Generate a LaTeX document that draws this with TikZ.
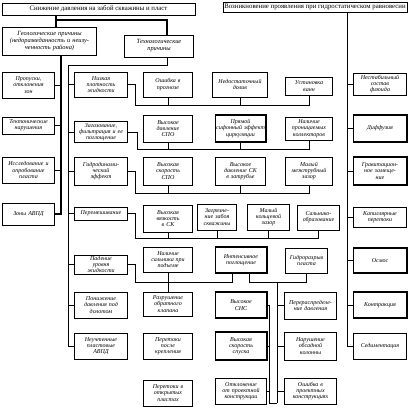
\documentclass[tikz,border=0pt]{standalone}
\usepackage{fontspec}
\setmainfont{Liberation Serif}
\usetikzlibrary{calc}

\begin{document}
\begin{tikzpicture}[x=1pt,y=-1pt,
  box/.style={draw,line width=0.8pt,align=center,inner sep=0.8pt,
    font=\fontsize{6}{6.2}\selectfont\itshape},
  heavy/.style={line width=1.4pt},
  title/.style={box,font=\fontsize{6.8}{7}\selectfont},
  link/.style={line width=0.7pt},
  trunk/.style={line width=1.6pt}]
\useasboundingbox (0,0) rectangle (409,408);

% headings
\node[title,minimum width=193,minimum height=12] (t1) at (98.5,9) {Снижение давления на забой скважины и пласт};
\node[title,minimum width=184,minimum height=10] (t2) at (315,7) {Возникновение проявления при гидростатическом равновесии};
\node[box,text width=93,minimum height=28,font=\fontsize{6.4}{7}\selectfont\itshape] (geo) at (49.5,41) {Геологические причины\\(недоразведанность и неизу-\\ченность района)};
\node[box,text width=68,minimum height=22,font=\fontsize{6.4}{7}\selectfont\itshape] (tech) at (159,46) {Технологические\\причины};

% geological causes
\node[box,text width=51,minimum height=26] (a1) at (28.5,85) {Пропуски,\\отклонения\\зон};
\node[box,text width=51,minimum height=17] (a2) at (28.5,125.5) {Тектонические\\нарушения};
\node[box,text width=51,minimum height=26] (a3) at (28.5,170) {Исследование и\\опробование\\пласта};
\node[box,text width=51,minimum height=22] (a4) at (28.5,214) {Зоны АВПД};

% technological causes
\node[box,text width=52,minimum height=25] (b1) at (101,84.5) {Низкая\\плотность\\жидкости};
\node[box,text width=52,minimum height=21] (b2) at (101,132) {Загазование,\\фильтрация и ее\\поглощение};
\node[box,text width=52,minimum height=28] (b3) at (101,171) {Гидродинами-\\ческий\\эффект};
\node[box,text width=52,minimum height=13] (b4) at (101,213.5) {Перемешивание};
\node[box,text width=52,minimum height=19] (b5) at (101,264.5) {Падение\\уровня\\жидкости};
\node[box,text width=52,minimum height=26] (b6) at (101,305) {Понижение\\давления под\\долотом};
\node[box,text width=52,minimum height=26] (b7) at (101,346) {Неучтенные\\пластовые\\АВПД};

\node[box,text width=48,minimum height=25] (c1) at (168,84.5) {Ошибка в\\прогнозе};
\node[box,text width=48,minimum height=27] (c2) at (168,128.5) {Высокое\\давление\\СПО};
\node[box,text width=48,minimum height=28] (c3) at (168,171) {Высокая\\скорость\\СПО};
\node[box,text width=48,minimum height=27] (c4) at (168,218.5) {Высокая\\вязкость\\в СК};
\node[box,text width=48,minimum height=25] (c5) at (168,259.5) {Наличие\\сальника при\\подъеме};
\node[box,text width=48,minimum height=24] (c6) at (168,304) {Разрушение\\обратного\\клапана};
\node[box,text width=48,minimum height=26] (c7) at (168,346) {Перетоки\\после\\крепления};
\node[box,text width=48,minimum height=26] (c8) at (168,393) {Перетоки в\\открытых\\пластах};

\node[box,text width=54,minimum height=25] (d1) at (240,84.5) {Недостаточный\\долив};
\node[box,heavy,text width=49,minimum height=27] (d2) at (240.5,128.5) {Прямой\\сифонный эффект\\циркуляции};
\node[box,text width=49,minimum height=28] (d3) at (240.5,171) {Высокое\\давление СК\\в затрубье};
\node[box,text width=38,minimum height=26] (d4a) at (217,217) {Загрязне-\\ние забоя\\скважины};
\node[box,text width=41,minimum height=26] (d4b) at (268.5,217) {Малый\\кольцевой\\зазор};
\node[box,heavy,text width=50,minimum height=26] (d5) at (241,260) {Интенсивное\\поглощение};
\node[box,heavy,text width=50,minimum height=26] (d6) at (241,305) {Высокое\\СНС};
\node[box,heavy,text width=50,minimum height=28] (d7) at (241,346) {Высокая\\скорость\\спуска};
\node[box,text width=50,minimum height=26] (d8) at (241,391) {Отклонение\\от проектной\\конструкции};

\node[box,text width=46,minimum height=18] (e1) at (309,86) {Установка\\ванн};
\node[box,text width=46,minimum height=23] (e2) at (309,128.5) {Наличие\\проницаемых\\коллекторов};
\node[box,text width=46,minimum height=28] (e3) at (309,171) {Малый\\межтрубный\\зазор};
\node[box,text width=41,minimum height=25] (e4) at (318.5,217.5) {Сальнико-\\образование};
\node[box,text width=41,minimum height=25] (e5) at (306.5,260.5) {Гидроразрыв\\пласта};
\node[box,text width=51,minimum height=27] (e6) at (310.5,305.5) {Перераспределе-\\ние давления};
\node[box,text width=51,minimum height=28] (e7) at (310.5,346) {Нарушение\\обсадной\\колонны};
\node[box,text width=51,minimum height=26] (e8) at (310.5,391) {Ошибка в\\проектных\\конструкциях};

% equilibrium causes
\node[box,text width=52,minimum height=22] (f1) at (380,84) {Нестабильный\\состав\\флюида};
\node[box,heavy,text width=52,minimum height=27] (f2) at (380,128.5) {Диффузия};
\node[box,heavy,text width=52,minimum height=28] (f3) at (380,171) {Гравитацион-\\ное замеще-\\ние};
\node[box,text width=52,minimum height=20] (f4) at (380,217) {Капиллярные\\перетоки};
\node[box,heavy,text width=52,minimum height=25] (f5) at (380,260.5) {Осмос};
\node[box,heavy,text width=52,minimum height=26] (f6) at (380,305) {Контракция};
\node[box,text width=52,minimum height=26] (f7) at (380,346) {Седиментация};

% branches from the headings
\coordinate (gk) at (56,20);
\coordinate (tk) at (167,20);
\draw[trunk] (t1.south -| gk) -- (gk |- geo.north);
\draw[trunk] (gk) -- (tk) -- (tk |- tech.north);
\coordinate (lt) at (61,0);
\draw[trunk] (geo.south -| lt) |- (a4.east);
\foreach \n in {a1,a2,a3} \draw[link] (\n.east) -- (\n.east -| lt);
\coordinate (tb) at (68,65);
\draw[link] (tech.south -| tk) |- (tb) |- (b7.west);
\foreach \n in {b1,b2,b3,b4,b5,b6} \draw[link] (\n.west) -- (\n.west -| tb);
\coordinate (rt) at (347,0);
\draw[link] (t2.south -| rt) |- (f7.west);
\foreach \n in {f1,f2,f3,f4,f5,f6} \draw[link] (\n.west) -- (\n.west -| rt);

% rows
\coordinate (r1) at (135,105);
\draw[link] (b1.east) -| (r1) -| (e1.south);
\foreach \n in {c1,d1} \draw[link] (\n.south) -- (\n.south |- r1);
\coordinate (r2) at (137,149);
\draw[link] (b2.east) -| (r2) -| (e2.south);
\foreach \n in {c2,d2} \draw[link] (\n.south) -- (\n.south |- r2);
\coordinate (r3) at (135,193);
\draw[link] (b3.east) -| (r3) -| (e3.south);
\foreach \n in {c3,d3} \draw[link] (\n.south) -- (\n.south |- r3);
\coordinate (r4) at (135,238);
\draw[link] (b4.east) -| (r4) -| (e4.south);
\foreach \n in {c4,d4a,d4b} \draw[link] (\n.south) -- (\n.south |- r4);
\coordinate (r5) at (135,282);
\coordinate (r5a) at (232,282);
\coordinate (r5b) at (249,282);
\draw[link] (b5.east) -| (r5) -- (r5a) -- (r5a |- d5.south);
\draw[link] (c5.south) -- (c6.north);
\draw[link] (r5b |- d5.south) -- (r5b) -| (e5.south);
\coordinate (v1) at (277,282);
\coordinate (v1b) at (277,403);
\coordinate (v2) at (269,0);
\draw[link] (v1) -- (v1b);
\foreach \n in {e6,e7,e8} \draw[link] (\n.west) -- (\n.west -| v1);
\draw[link] (d6.east) -- (d6.east -| v2) -- (v2 |- v1b) -- (v1b);
\foreach \n in {d7,d8} \draw[link] (\n.east) -- (\n.east -| v2);
\end{tikzpicture}
\end{document}
